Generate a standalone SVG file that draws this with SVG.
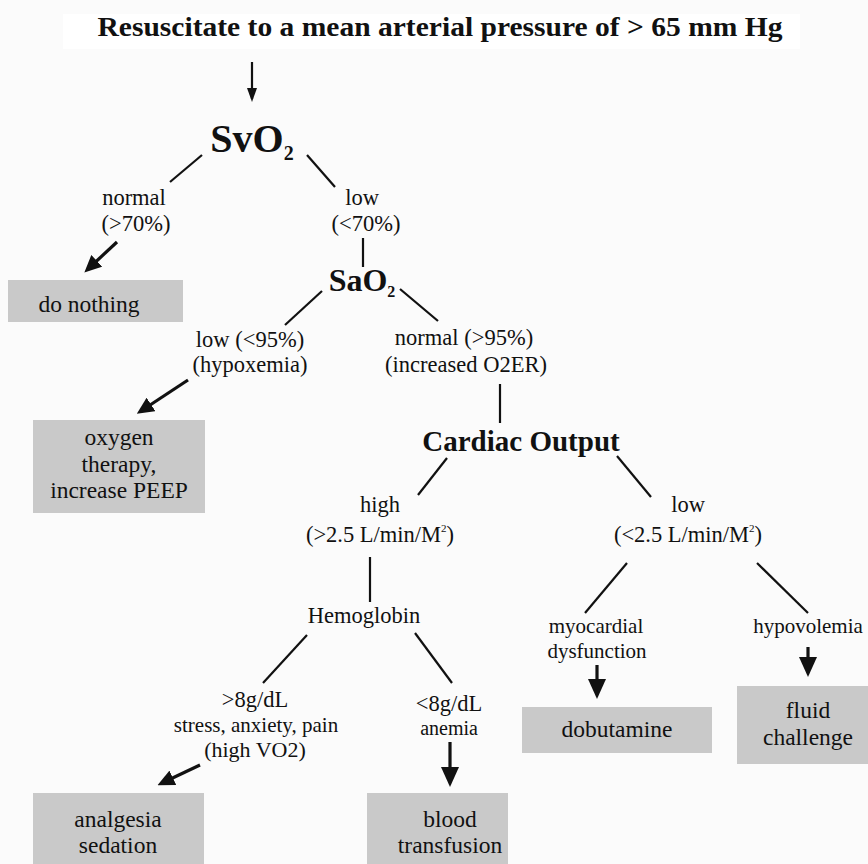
<svg xmlns="http://www.w3.org/2000/svg" width="868" height="864" viewBox="0 0 868 864">
<defs>
<style>
.t{font-family:"Liberation Serif","Times New Roman",serif;fill:#111;text-anchor:middle}
.b{font-weight:bold}
.lab{font-size:22.5px}
.box{font-size:23.5px}
.sm{font-size:21px}
.bx{fill:#c9c9c9}
.ln{stroke:#111;stroke-width:2.2;fill:none}
.ar{stroke:#111;stroke-width:3.2;fill:none}
</style>
<marker id="ahs" markerUnits="userSpaceOnUse" markerWidth="14" markerHeight="10" refX="11" refY="5" orient="auto"><path d="M0,0 L14,5 L0,10 z" fill="#111"/></marker>
<marker id="ah" markerUnits="userSpaceOnUse" markerWidth="17" markerHeight="16" refX="12" refY="8" orient="auto"><path d="M0,0 L17,8 L0,16 z" fill="#111"/></marker>
<marker id="ahl" markerUnits="userSpaceOnUse" markerWidth="20" markerHeight="18" refX="15" refY="9" orient="auto"><path d="M0,0 L20,9 L0,18 z" fill="#111"/></marker>
</defs>
<rect x="0" y="0" width="868" height="864" fill="#fbfbfb"/>
<rect x="63" y="14" width="737" height="35" fill="#ffffff"/>

<g id="title"><text class="t b" x="440" y="36" font-size="27" textLength="685" lengthAdjust="spacingAndGlyphs">Resuscitate to a mean arterial pressure of &gt; 65 mm Hg</text></g>

<g id="svo2"><text class="t b" x="252" y="152" font-size="40">SvO<tspan font-size="20" dy="8">2</tspan></text></g>
<g id="normal70"><text class="t lab" x="134" y="205">normal</text><text class="t lab" x="136" y="231">(&gt;70%)</text></g>
<g id="low70"><text class="t lab" x="362" y="205">low</text><text class="t lab" x="366" y="231">(&lt;70%)</text></g>
<g id="donothing"><rect class="bx" x="8" y="280" width="175" height="42"/><text class="t box" x="89" y="312">do nothing</text></g>
<g id="sao2"><text class="t b" x="362" y="291" font-size="32">SaO<tspan font-size="16" dy="6">2</tspan></text></g>
<g id="low95"><text class="t lab" x="250" y="347">low (&lt;95%)</text><text class="t lab" x="250" y="372">(hypoxemia)</text></g>
<g id="normal95"><text class="t lab" x="464" y="345">normal (&gt;95%)</text><text class="t lab" x="466" y="372">(increased O2ER)</text></g>
<g id="oxygen"><rect class="bx" x="33" y="420" width="172" height="93"/><text class="t box" x="119" y="445">oxygen</text><text class="t box" x="119" y="472">therapy,</text><text class="t box" x="119" y="498">increase PEEP</text></g>
<g id="cardiac"><text class="t b" x="521" y="451" font-size="29">Cardiac Output</text></g>
<g id="high"><text class="t lab" x="380" y="512">high</text><text class="t lab" x="380" y="542">(&gt;2.5 L/min/M<tspan font-size="11" dy="-10">2</tspan><tspan dy="10">)</tspan></text></g>
<g id="low25"><text class="t lab" x="688" y="512">low</text><text class="t lab" x="688" y="542">(&lt;2.5 L/min/M<tspan font-size="11" dy="-10">2</tspan><tspan dy="10">)</tspan></text></g>
<g id="hemoglobin"><text class="t lab" x="364" y="623">Hemoglobin</text></g>
<g id="myocardial"><text class="t sm" x="596" y="633">myocardial</text><text class="t sm" x="597" y="658">dysfunction</text></g>
<g id="hypovolemia"><text class="t sm" x="808" y="633">hypovolemia</text></g>
<g id="dobutamine"><rect class="bx" x="522" y="707" width="190" height="46"/><text class="t box" x="617" y="737">dobutamine</text></g>
<g id="fluid"><rect class="bx" x="737" y="686" width="131" height="78"/><text class="t box" x="808" y="718">fluid</text><text class="t box" x="808" y="745">challenge</text></g>
<g id="gt8"><text class="t lab" x="255" y="707">&gt;8g/dL</text><text class="t sm" x="256" y="732">stress, anxiety, pain</text><text class="t" x="255" y="757" font-size="22">(high VO2)</text></g>
<g id="lt8"><text class="t lab" x="449" y="711">&lt;8g/dL</text><text class="t" x="449" y="735" font-size="20">anemia</text></g>
<g id="analgesia"><rect class="bx" x="33" y="793" width="171" height="71"/><text class="t box" x="118" y="827">analgesia</text><text class="t box" x="118" y="853">sedation</text></g>
<g id="blood"><rect class="bx" x="367" y="793" width="141" height="71"/><text class="t box" x="450" y="827">blood</text><text class="t box" x="450" y="853">transfusion</text></g>

<g id="connectors">
<line class="ln" x1="252" y1="62" x2="252" y2="99" marker-end="url(#ahs)" stroke-width="2"/>
<line class="ln" x1="170" y1="182" x2="202" y2="155"/>
<line class="ln" x1="307" y1="155" x2="335" y2="187"/>
<line class="ar" x1="117" y1="242" x2="88" y2="269" marker-end="url(#ah)"/>
<line class="ln" x1="363" y1="238" x2="363" y2="267"/>
<line class="ln" x1="322" y1="291" x2="285" y2="325"/>
<line class="ln" x1="400" y1="289" x2="438" y2="321"/>
<line class="ar" x1="188" y1="380" x2="141" y2="411" marker-end="url(#ah)"/>
<line class="ln" x1="500" y1="384" x2="500" y2="423"/>
<line class="ln" x1="447" y1="458" x2="418" y2="495"/>
<line class="ln" x1="617" y1="456" x2="651" y2="497"/>
<line class="ln" x1="370" y1="557" x2="370" y2="602"/>
<line class="ln" x1="307" y1="635" x2="263" y2="683"/>
<line class="ln" x1="415" y1="633" x2="452" y2="683"/>
<line class="ln" x1="627" y1="563" x2="585" y2="613"/>
<line class="ln" x1="757" y1="563" x2="808" y2="613"/>
<line class="ar" x1="200" y1="765" x2="162" y2="783" marker-end="url(#ah)"/>
<line class="ar" x1="450" y1="742" x2="450" y2="782" marker-end="url(#ahl)"/>
<line class="ar" x1="597" y1="665" x2="597" y2="694" marker-end="url(#ahl)"/>
<line class="ar" x1="808" y1="647" x2="808" y2="672" marker-end="url(#ahl)"/>
</g>
</svg>
